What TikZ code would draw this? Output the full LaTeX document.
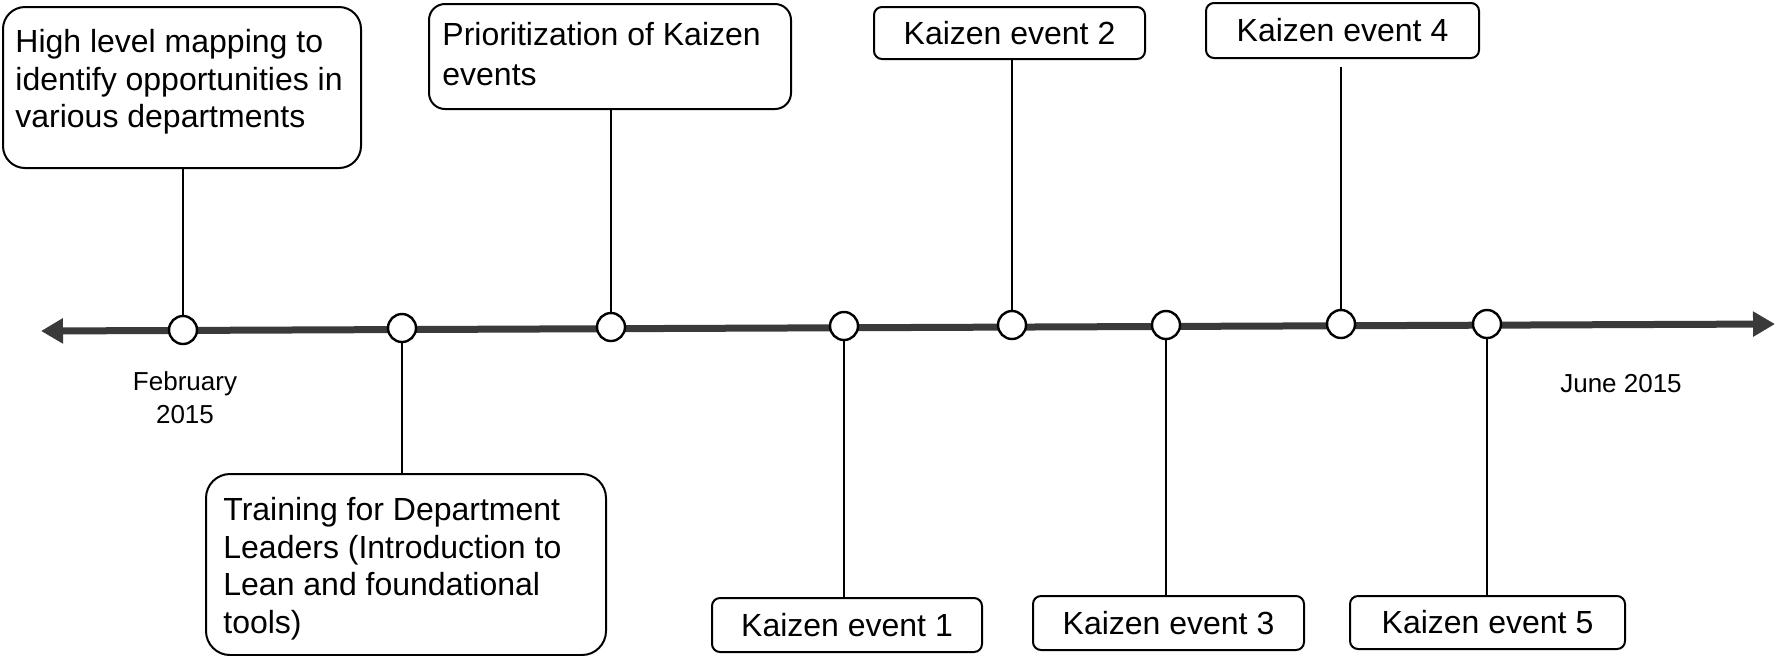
\documentclass[tikz,border=0pt]{standalone}
\usepackage{fontspec}
\setmainfont{Liberation Sans}
\usetikzlibrary{arrows.meta}
\definecolor{tlcol}{HTML}{3A3A3A}
\begin{document}
\begin{tikzpicture}[x=0.5pt,y=-0.5pt,
  box/.style={draw, line width=1pt, rounded corners=4pt, inner sep=0pt, anchor=north west,
              font=\fontsize{16}{18.75}\selectfont},
  txt/.style={inner sep=0pt, anchor=north west, align=left, font=\fontsize{16}{18.75}\selectfont},
  dot/.style={circle, draw, line width=1.2pt, fill=white, minimum size=14pt, inner sep=0pt},
  conn/.style={line width=0.75pt},
  datef/.style={font=\fontsize{13}{16.5}\selectfont, align=center, inner sep=0pt}]
\useasboundingbox (0,0) rectangle (1776,655);

% boxes
\node[box, rounded corners=11pt, minimum width=179pt, minimum height=80.5pt] (b1) at (2,6) {};
\node[txt] (t1) at (15,29) {High level mapping to\\identify opportunities in\\various departments};
\node[box, rounded corners=8pt, minimum width=181pt, minimum height=52.5pt] (b3) at (428,3) {};
\node[txt, font=\fontsize{16}{20}\selectfont] (t3) at (442,22) {Prioritization of Kaizen\\events};
\node[box, minimum width=135.5pt, minimum height=26pt] (b5) at (873,6) {Kaizen event 2};
\node[box, minimum width=136.5pt, minimum height=27.5pt] (b7) at (1205,2) {Kaizen event 4};
\node[box, rounded corners=12pt, minimum width=200pt, minimum height=90.5pt] (b2) at (205,473) {};
\node[txt] (t2) at (223,497) {Training for Department\\Leaders (Introduction to\\Lean and foundational\\tools)};
\node[box, minimum width=135pt, minimum height=27pt] (b4) at (711,597) {Kaizen event 1};
\node[box, minimum width=135.5pt, minimum height=27pt] (b6) at (1032,595) {Kaizen event 3};
\node[box, minimum width=137.5pt, minimum height=26.5pt] (b8) at (1349,595) {Kaizen event 5};

% timeline
\coordinate (L) at (41,331);
\coordinate (R) at (1775,324);
\draw[line width=3.5pt, tlcol, {Triangle[length=11pt,width=12pt]}-{Triangle[length=11pt,width=12pt]}] (L) -- (R);

% milestones
\node[dot] (c1) at (183,330) {};
\node[dot] (c2) at (402,328) {};
\node[dot] (c3) at (611,327) {};
\node[dot] (c4) at (844,326) {};
\node[dot] (c5) at (1012,325) {};
\node[dot] (c6) at (1166,325) {};
\node[dot] (c7) at (1341,324) {};
\node[dot] (c8) at (1487,324) {};

% connectors
\draw[conn] (c1.north) -- (c1.north |- b1.south);
\draw[conn] (c2.south) -- (c2.south |- b2.north);
\draw[conn] (c3.north) -- (c3.north |- b3.south);
\draw[conn] (c4.south) -- (c4.south |- b4.north);
\draw[conn] (c5.north) -- (c5.north |- b5.south);
\draw[conn] (c6.south) -- (c6.south |- b6.north);
\draw[conn, shorten >=4pt] (c7.north) -- (c7.north |- b7.south);
\draw[conn] (c8.south) -- (c8.south |- b8.north);

% dates
\node[datef] (d1) at (185,398) {February\\2015};
\node[datef] (d2) at (1621,384) {June 2015};
\end{tikzpicture}
\end{document}
